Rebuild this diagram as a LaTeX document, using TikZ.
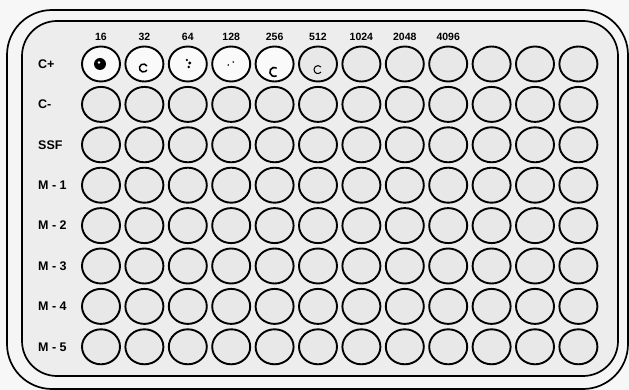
\documentclass[tikz,border=0pt]{standalone}
\usepackage{fontspec}
\setmainfont{Liberation Sans}
\usetikzlibrary{shapes.geometric}
\begin{document}
\begin{tikzpicture}[x=1pt,y=-1pt,
  well/.style={ellipse,draw,line width=1.9pt,minimum width=38pt,minimum height=35pt,inner sep=0pt,fill=black!9},
  clearwell/.style={well,fill=black!2},
  rowlab/.style={anchor=west,font=\bfseries\fontsize{12.5}{14}\selectfont,inner sep=0pt},
  collab/.style={font=\bfseries\fontsize{10.5}{12}\selectfont,inner sep=0pt},
  plate/.style={line width=1.7pt}]
\useasboundingbox (0,0) rectangle (629,390);
\fill[black!3] (0,0) rectangle (629,390);
\draw[plate,rounded corners=45pt,fill=black!4] (7,10) rectangle (628,389);
\draw[plate,rounded corners=35pt,fill=black!7] (22,21) rectangle (618,376);
% column labels
\foreach \n [count=\c] in {16,32,64,128,256,512,1024,2048,4096}
  \node[collab] (col\c) at ({101+43.4*(\c-1)},37) {\n};
% row labels and wells
\foreach \lab [count=\r] in {C+,C-,SSF,M - 1,M - 2,M - 3,M - 4,M - 5}{
  \node[rowlab] (lab\r) at (38,{64+40.4*(\r-1)}) {\lab};
  \foreach \c in {1,...,12}{
    \ifnum\r=1
      \ifnum\c<6
        \node[clearwell] (w\r-\c) at ({101+43.4*(\c-1)},{64+40.4*(\r-1)}) {};
      \else
        \node[well] (w\r-\c) at ({101+43.4*(\c-1)},{64+40.4*(\r-1)}) {};
      \fi
    \else
      \node[well] (w\r-\c) at ({101+43.4*(\c-1)},{64+40.4*(\r-1)}) {};
    \fi
  }
}
% contents of the positive control wells
\fill ([xshift=-1pt]w1-1.center) circle (6pt);
\fill[white] ([xshift=-2pt,yshift=1.5pt]w1-1.center) circle (1.3pt);
\draw[line width=1.5pt] ([xshift=2.5pt,yshift=-2pt]w1-2.center) arc (30:330:4pt);
\fill ([xshift=1pt,yshift=-3pt]w1-3.center) circle (1.4pt);
\fill ([xshift=2pt,yshift=1pt]w1-3.center) circle (1.6pt);
\fill ([xshift=-1pt,yshift=4pt]w1-3.center) circle (1.3pt);
\fill ([xshift=-3pt,yshift=-1pt]w1-4.center) circle (0.9pt);
\fill ([xshift=2pt,yshift=2pt]w1-4.center) circle (0.9pt);
\draw[line width=1.6pt] ([xshift=2pt,yshift=-4pt]w1-5.center) arc (60:300:4.5pt);
\fill ([xshift=-2pt,yshift=-4pt]w1-5.center) circle (1pt);
\draw[line width=1pt] ([xshift=3pt,yshift=-3pt]w1-6.center) arc (40:320:4pt);
\end{tikzpicture}
\end{document}
